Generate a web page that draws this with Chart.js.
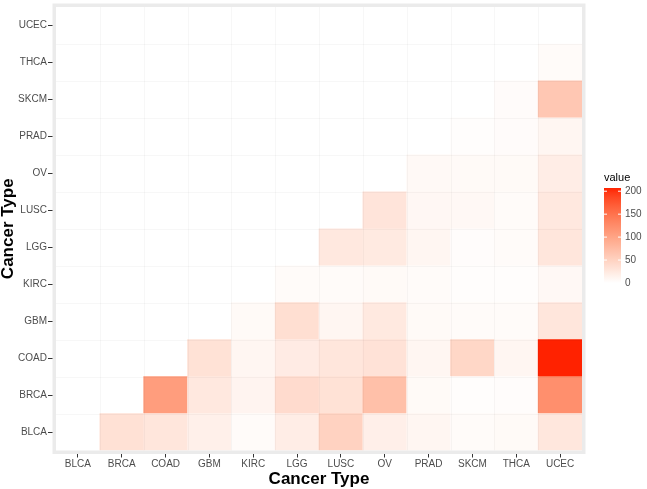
<!DOCTYPE html>
<html>
<head>
<meta charset="utf-8">
<script src="https://cdn.jsdelivr.net/npm/chart.js@4.4.1/dist/chart.umd.min.js"></script>
<style>
  html, body { margin: 0; padding: 0; background: #fff; }
  #wrap { width: 647px; height: 489px; }
</style>
</head>
<body>
<div id="wrap"><canvas id="chart" width="647" height="489"></canvas></div>
<script>
const cancerTypes = ['BLCA', 'BRCA', 'COAD', 'GBM', 'KIRC', 'LGG', 'LUSC', 'OV', 'PRAD', 'SKCM', 'THCA', 'UCEC'];

// one array per y row, columns follow cancerTypes on the x axis
const BLCA = [0, 34, 28, 17, 5, 20, 50, 18, 10, 5, 6, 27];
const BRCA = [0, 0, 108, 26, 12, 40, 33, 70, 6, 2, 3, 122];
const COAD = [0, 0, 0, 33, 10, 22, 28, 32, 10, 45, 10, 207];
const GBM  = [0, 0, 0, 0, 6, 36, 10, 25, 6, 5, 5, 28];
const KIRC = [0, 0, 0, 0, 0, 5, 5, 6, 5, 2, 2, 8];
const LGG  = [0, 0, 0, 0, 0, 0, 26, 24, 10, 3, 5, 28];
const LUSC = [0, 0, 0, 0, 0, 0, 0, 30, 9, 8, 5, 26];
const OV   = [0, 0, 0, 0, 0, 0, 0, 0, 7, 6, 6, 20];
const PRAD = [0, 0, 0, 0, 0, 0, 0, 0, 0, 2, 4, 10];
const SKCM = [0, 0, 0, 0, 0, 0, 0, 0, 0, 0, 4, 62];
const THCA = [0, 0, 0, 0, 0, 0, 0, 0, 0, 0, 0, 5];
const UCEC = [0, 0, 0, 0, 0, 0, 0, 0, 0, 0, 0, 0];

const rows = [BLCA, BRCA, COAD, GBM, KIRC, LGG, LUSC, OV, PRAD, SKCM, THCA, UCEC];
const legendTicks = [0, 50, 100, 150, 200];

const FONT = '"Liberation Sans", Arial, Helvetica, sans-serif';
const LOW = [255, 255, 255];
const HIGH = [255, 34, 0];
const VMIN = Math.min(...rows.flat());
const VMAX = Math.max(...rows.flat());

// ggplot-like gradient: interpolate in Lab space
function lin(c) { c /= 255; return c <= 0.04045 ? c / 12.92 : Math.pow((c + 0.055) / 1.055, 2.4); }
function unlin(c) { c = c <= 0.0031308 ? 12.92 * c : 1.055 * Math.pow(c, 1 / 2.4) - 0.055; return Math.round(Math.max(0, Math.min(1, c)) * 255); }
function toLab(rgb) {
  const [r, g, b] = rgb.map(lin);
  const x = (0.4124 * r + 0.3576 * g + 0.1805 * b) / 0.95047;
  const y = 0.2126 * r + 0.7152 * g + 0.0722 * b;
  const z = (0.0193 * r + 0.1192 * g + 0.9505 * b) / 1.08883;
  const f = t => t > 0.008856 ? Math.cbrt(t) : 7.787 * t + 16 / 116;
  return [116 * f(y) - 16, 500 * (f(x) - f(y)), 200 * (f(y) - f(z))];
}
function fromLab([L, a, bb]) {
  const fy = (L + 16) / 116, fx = fy + a / 500, fz = fy - bb / 200;
  const inv = t => t * t * t > 0.008856 ? t * t * t : (t - 16 / 116) / 7.787;
  const x = inv(fx) * 0.95047, y = inv(fy), z = inv(fz) * 1.08883;
  const r = 3.2406 * x - 1.5372 * y - 0.4986 * z;
  const g = -0.9689 * x + 1.8758 * y + 0.0415 * z;
  const b = 0.0557 * x - 0.2040 * y + 1.0570 * z;
  return [unlin(r), unlin(g), unlin(b)];
}
const labLow = toLab(LOW), labHigh = toLab(HIGH);
function fillFor(v) {
  const t = Math.max(0, Math.min(1, (v - VMIN) / (VMAX - VMIN)));
  const c = fromLab(labLow.map((l, i) => l + (labHigh[i] - l) * t));
  return `rgb(${c[0]},${c[1]},${c[2]})`;
}

const panelFrame = {
  id: 'panelFrame',
  afterDatasetsDraw(chart) {
    const { ctx, chartArea: a, scales } = chart;
    ctx.save();
    ctx.strokeStyle = 'rgba(0,0,0,0.03)';
    ctx.lineWidth = 1;
    ctx.beginPath();
    for (let i = 0; i < cancerTypes.length - 1; i++) {
      const x = Math.round(scales.x.getPixelForValue(i + 0.5)) + 0.5;
      const y = Math.round(scales.y.getPixelForValue(i + 0.5)) + 0.5;
      ctx.moveTo(x, a.top); ctx.lineTo(x, a.bottom);
      ctx.moveTo(a.left, y); ctx.lineTo(a.right, y);
    }
    ctx.stroke();
    ctx.restore();
  },
  afterDraw(chart) {
    const { ctx, chartArea: a } = chart;
    ctx.save();
    ctx.strokeStyle = '#ebebeb';
    ctx.lineWidth = 3.5;
    ctx.strokeRect(a.left - 1.75, a.top - 1.75, a.right - a.left + 3.5, a.bottom - a.top + 3.5);

    // colour bar legend
    const x0 = a.right + 22, w = 17, top = 188, bot = 283;
    ctx.fillStyle = '#000';
    ctx.font = '11px ' + FONT;
    ctx.textAlign = 'left';
    ctx.textBaseline = 'middle';
    ctx.fillText('value', x0, 178);
    const grad = ctx.createLinearGradient(0, bot, 0, top);
    for (let i = 0; i <= 20; i++) grad.addColorStop(i / 20, fillFor(VMIN + (VMAX - VMIN) * i / 20));
    ctx.fillStyle = grad;
    ctx.fillRect(x0, top, w, bot - top);
    ctx.font = '10px ' + FONT;
    ctx.strokeStyle = '#fff';
    ctx.lineWidth = 1;
    legendTicks.forEach(v => {
      const y = bot - (v - VMIN) / (VMAX - VMIN) * (bot - top);
      ctx.beginPath();
      ctx.moveTo(x0, y); ctx.lineTo(x0 + 3, y);
      ctx.moveTo(x0 + w - 3, y); ctx.lineTo(x0 + w, y);
      ctx.stroke();
      ctx.fillStyle = '#4d4d4d';
      ctx.fillText(String(v), x0 + w + 4, y);
    });
    ctx.restore();
  }
};

new Chart(document.getElementById('chart'), {
  type: 'bar',
  data: {
    labels: cancerTypes,
    datasets: rows.map((row, r) => ({
      label: cancerTypes[r],
      data: row.map(() => [r - 0.5, r + 0.5]),
      backgroundColor: c => fillFor(row[c.dataIndex]),
      borderWidth: 0,
      barPercentage: 1,
      categoryPercentage: 1,
      grouped: false
    }))
  },
  options: {
    responsive: false,
    animation: false,
    layout: { padding: { top: 5.5, right: 65, left: 0, bottom: 0 } },
    plugins: { legend: { display: false }, tooltip: { enabled: false } },
    scales: {
      x: {
        type: 'category',
        offset: true,
        border: { display: false },
        grid: { drawOnChartArea: false, drawTicks: true, tickLength: 7, tickColor: '#333', offset: false },
        ticks: { color: '#4d4d4d', font: { family: FONT, size: 10 }, padding: 1, maxRotation: 0, autoSkip: false },
        title: { display: true, text: 'Cancer Type', color: '#000', font: { family: FONT, size: 17, weight: 'bold', lineHeight: 1 }, padding: { top: 0, bottom: 1 } },
        afterFit: s => { s.height = 38.5; }
      },
      y: {
        type: 'linear',
        min: -0.5,
        max: 11.5,
        afterBuildTicks: s => { s.ticks = cancerTypes.map((_, i) => ({ value: i })); },
        border: { display: false },
        grid: { drawOnChartArea: false, drawTicks: true, tickLength: 8, tickColor: '#333' },
        ticks: { color: '#4d4d4d', font: { family: FONT, size: 10 }, padding: 1, callback: v => cancerTypes[v] },
        title: { display: true, text: 'Cancer Type', color: '#000', font: { family: FONT, size: 17, weight: 'bold', lineHeight: 1 }, padding: { top: 0, bottom: 0 } },
        afterFit: s => { s.width = 56; }
      }
    }
  },
  plugins: [panelFrame]
});
</script>
</body>
</html>
